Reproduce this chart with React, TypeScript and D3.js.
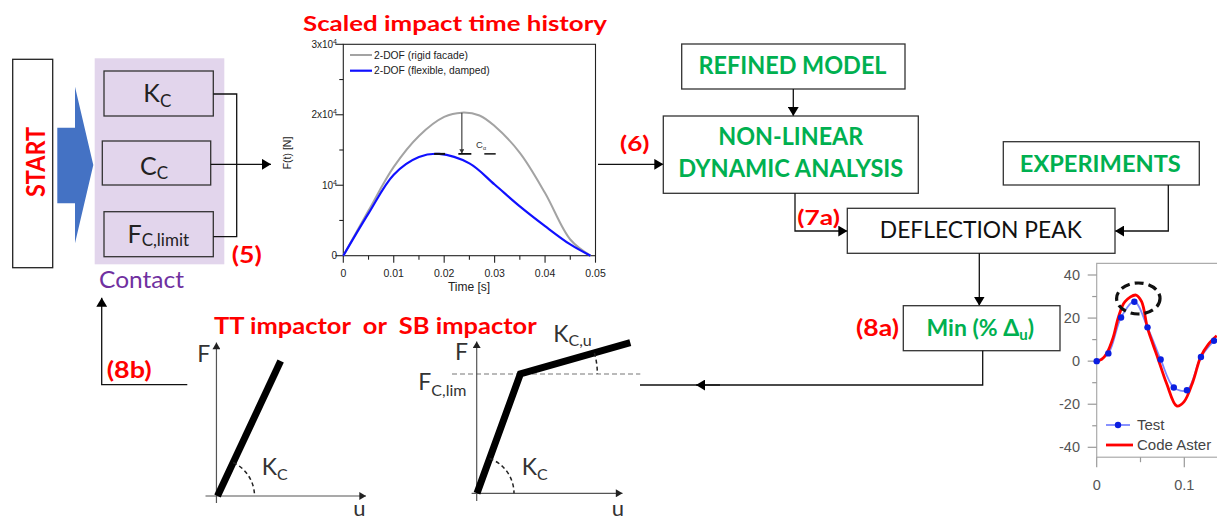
import React from 'react';
import * as d3 from 'd3';

// ---- Scaled impact time history (2-DOF) ----
const impactTickValuesX = [0, 0.01, 0.02, 0.03, 0.04, 0.05];
const impactTickLabelsX = ['0', '0.01', '0.02', '0.03', '0.04', '0.05'];
const impactMinorX = [0.005, 0.015, 0.025, 0.035, 0.045];
const impactTickValuesY = [0, 10000, 20000, 30000];
const impactTickSupY = ['', '4', '4', '4'];
const impactTickMainY = ['0', '10', '2x10', '3x10'];
const impactMinorY = [5000, 15000, 25000];
const rigidTime = [0, 0.005, 0.01, 0.015, 0.02, 0.0235, 0.027, 0.03, 0.035, 0.04, 0.045, 0.049];
const rigidForce = [0, 6400, 12600, 17000, 19700, 20300, 19900, 18400, 14600, 8900, 2300, 0];
const flexTime = [0, 0.005, 0.01, 0.015, 0.019, 0.025, 0.03, 0.035, 0.04, 0.045, 0.049];
const flexForce = [0, 6000, 11500, 14000, 14450, 13100, 10100, 7000, 4200, 1600, 0];
const impactLegend = ['2-DOF (rigid facade)', '2-DOF (flexible, damped)'];

// ---- Deflection comparison ----
const deflTickValuesY = [-40, -20, 0, 20, 40];
const deflMinorY = [-30, -10, 10, 30];
const deflTickValuesX = [0, 0.1];
const deflTickLabelsX = ['0', '0.1'];
const deflMinorX = [0.05];
const testTime = [0, 0.0133, 0.0278, 0.043, 0.058, 0.073, 0.088, 0.103, 0.119, 0.134];
const testDefl = [0, 3.6, 20.3, 27.6, 15.7, 0.8, -12.2, -13.5, 1.9, 9.5];
const asterTime = [0, 0.0057, 0.0114, 0.019, 0.0247, 0.0323, 0.0449, 0.0513, 0.0578, 0.0639, 0.0703, 0.0798, 0.0913, 0.0996, 0.11, 0.1186, 0.1274, 0.137];
const asterDefl = [0, 0.8, 3.6, 11.3, 20.3, 27.6, 30.7, 27.6, 15.7, 8.2, 0.8, -10.4, -20.8, -18.9, -9.3, 1.9, 7.8, 11.8];
const deflLegend = ['Test', 'Code Aster'];

// ---- Contact laws (schematic) ----
const ttDisp = [0, 0.421];
const ttForce = [0, 0.871];
const sbDisp = [0, 0.289, 1.022];
const sbForce = [0, 0.77, 0.972];

const FLOW = "Lato, 'Open Sans', sans-serif";
const CHART = "'Liberation Sans', Arial, sans-serif";
const RED = '#ff0000';
const GREEN = '#00b050';

export default function App() {
  // impact chart scales
  const ix = d3.scaleLinear().domain([0, 0.05]).range([343.3, 595.5]);
  const iy = d3.scaleLinear().domain([0, 30000]).range([255.7, 44.3]);
  const iLine = d3.line<[number, number]>().x(d => ix(d[0])).y(d => iy(d[1])).curve(d3.curveCatmullRom.alpha(0.5));
  const rigid = rigidTime.map((t, i) => [t, rigidForce[i]] as [number, number]);
  const flex = flexTime.map((t, i) => [t, flexForce[i]] as [number, number]);
  const rigidPeakIdx = d3.maxIndex(rigidForce);
  const flexPeakIdx = d3.maxIndex(flexForce);
  const ax = ix(rigidTime[rigidPeakIdx]);
  const ayTop = iy(rigidForce[rigidPeakIdx]);
  const ayBot = iy(flexForce[flexPeakIdx]);
  const fpx = ix(flexTime[flexPeakIdx]);

  // deflection chart scales
  const dx = d3.scaleLinear().domain([0, 0.1]).range([1096.7, 1184.3]);
  const dy = d3.scaleLinear().domain([-40, 40]).range([447.3, 275]);
  const dLine = d3.line<[number, number]>().x(d => dx(d[0])).y(d => dy(d[1])).curve(d3.curveCatmullRom.alpha(0.5));
  const test = testTime.map((t, i) => [t, testDefl[i]] as [number, number]);
  const aster = asterTime.map((t, i) => [t, asterDefl[i]] as [number, number]);
  const dTop = dy(45.4);
  const dBot = dy(-44.6);

  // contact law scales
  const tu = d3.scaleLinear().domain([0, 1]).range([217.5, 367.5]);
  const tf = d3.scaleLinear().domain([0, 1]).range([496, 341]);
  const su = d3.scaleLinear().domain([0, 1]).range([477, 627]);
  const sf = d3.scaleLinear().domain([0, 1]).range([493.3, 338.3]);
  const ttLine = d3.line<number>().x(d => tu(d)).y((d, i) => tf(ttForce[i]));
  const sbLine = d3.line<number>().x(d => su(d)).y((d, i) => sf(sbForce[i]));

  const arcPath = (cx: number, cy: number, r: number, a0: number, a1: number) => {
    const x0 = cx + r * Math.cos(a0), y0 = cy - r * Math.sin(a0);
    const x1 = cx + r * Math.cos(a1), y1 = cy - r * Math.sin(a1);
    return `M${x0},${y0} A${r},${r} 0 0 1 ${x1},${y1}`;
  };
  const ttAngle = Math.atan2(tf(0) - tf(ttForce[1]), tu(ttDisp[1]) - tu(0));
  const sbAngle1 = Math.atan2(sf(0) - sf(sbForce[1]), su(sbDisp[1]) - su(0));
  const sbAngle2 = Math.atan2(sf(sbForce[1]) - sf(sbForce[2]), su(sbDisp[2]) - su(sbDisp[1]));

  const box = { fill: 'none', stroke: '#333', strokeWidth: 1.3 } as const;
  const conn = { fill: 'none', stroke: '#111', strokeWidth: 1.3 } as const;

  return (
    <svg width={1217} height={520} style={{ position: 'absolute', left: 0, top: 0, background: '#fff' }}>
      <defs>
        <marker id="ah" viewBox="0 0 10 12" refX={10} refY={6} markerWidth={9} markerHeight={11} markerUnits="userSpaceOnUse" orient="auto">
          <path d="M0,0 L10,6 L0,12 z" fill="#000" />
        </marker>
        <marker id="ahs" viewBox="0 0 10 12" refX={10} refY={6} markerWidth={8} markerHeight={8} markerUnits="userSpaceOnUse" orient="auto">
          <path d="M0,0 L10,6 L0,12 z" fill="#222" />
        </marker>
        <marker id="aht" viewBox="0 0 10 12" refX={10} refY={6} markerWidth={5} markerHeight={5} markerUnits="userSpaceOnUse" orient="auto">
          <path d="M0,0 L10,6 L0,12 z" fill="#333" />
        </marker>
      </defs>

      {/* START */}
      <rect x={12.7} y={59.3} width={40} height={208.4} fill="#fff" stroke="#222" strokeWidth={1.3} />
      <text transform="translate(44.5,162) rotate(-90)" textAnchor="middle" fontFamily={FLOW} fontWeight={700} fontSize={27} fill={RED} textLength={70} lengthAdjust="spacingAndGlyphs">START</text>
      <polygon points="57.3,127.7 75,127.7 75,86.7 93.3,165 75,243.3 75,203.3 57.3,203.3" fill="#4472c4" />

      {/* Contact block */}
      <rect x={94.7} y={58.3} width={129.6} height={206} fill="#e2d5ec" />
      <rect x={104} y={71} width={109.3} height={45} {...box} />
      <rect x={102.3} y={141} width={108.4} height={44} {...box} />
      <rect x={104} y={211.7} width={109.3} height={45} {...box} />
      <text x={157.3} y={101.7} textAnchor="middle" fontFamily={FLOW} fontSize={25} fill="#222">K<tspan fontSize={17} dy={5}>C</tspan></text>
      <text x={154} y={175} textAnchor="middle" fontFamily={FLOW} fontSize={25} fill="#222">C<tspan fontSize={17} dy={4}>C</tspan></text>
      <text x={158.3} y={243.3} textAnchor="middle" fontFamily={FLOW} fontSize={25} fill="#222">F<tspan fontSize={17} dy={3}>C,limit</tspan></text>
      <path d="M213.3,94 H236.7 V236.7 H213.3" {...conn} />
      <path d="M210.7,164.3 H271" {...conn} markerEnd="url(#ah)" />
      <text x={231.7} y={263} fontFamily={FLOW} fontWeight={700} fontSize={22} fill={RED} textLength={30} lengthAdjust="spacingAndGlyphs">(5)</text>
      <text x={99} y={288} fontFamily={FLOW} fontSize={23} fill="#7030a0" textLength={85} lengthAdjust="spacingAndGlyphs">Contact</text>

      {/* Impact time history chart */}
      <text x={455} y={30.5} textAnchor="middle" fontFamily={FLOW} fontWeight={700} fontSize={21} fill={RED} textLength={304} lengthAdjust="spacingAndGlyphs">Scaled impact time history</text>
      <rect x={ix(0)} y={iy(30000)} width={ix(0.05) - ix(0)} height={iy(0) - iy(30000)} fill="none" stroke="#222" strokeWidth={1.1} />
      {impactTickValuesX.map((v, i) => (
        <g key={'ixt' + i}>
          <line x1={ix(v)} x2={ix(v)} y1={iy(0)} y2={iy(0) + 7} stroke="#222" strokeWidth={1.1} />
          <text x={ix(v)} y={iy(0) + 21} textAnchor="middle" fontFamily={CHART} fontSize={10.5} fill="#222">{impactTickLabelsX[i]}</text>
        </g>
      ))}
      {impactMinorX.map((v, i) => (
        <line key={'ixm' + i} x1={ix(v)} x2={ix(v)} y1={iy(0)} y2={iy(0) + 4} stroke="#222" strokeWidth={1.1} />
      ))}
      {impactTickValuesY.map((v, i) => (
        <g key={'iyt' + i}>
          <line x1={ix(0) - 8} x2={ix(0)} y1={iy(v)} y2={iy(v)} stroke="#222" strokeWidth={1.1} />
          <text x={337} y={iy(v) + 3.5} textAnchor="end" fontFamily={CHART} fontSize={10} fill="#222">
            {impactTickMainY[i]}
            {impactTickSupY[i] ? <tspan fontSize={7} dy={-4}>{impactTickSupY[i]}</tspan> : null}
          </text>
        </g>
      ))}
      {impactMinorY.map((v, i) => (
        <line key={'iym' + i} x1={ix(0) - 4} x2={ix(0)} y1={iy(v)} y2={iy(v)} stroke="#222" strokeWidth={1.1} />
      ))}
      <text transform="translate(290.5,153) rotate(-90)" textAnchor="middle" fontFamily={CHART} fontSize={10.5} fill="#222">F(t)  [N]</text>
      <text x={469} y={291} textAnchor="middle" fontFamily={CHART} fontSize={12} fill="#222">Time [s]</text>
      <path d={iLine(rigid) || ''} fill="none" stroke="#a3a3a3" strokeWidth={2} />
      <path d={iLine(flex) || ''} fill="none" stroke="#1010ff" strokeWidth={2.2} />
      <line x1={350} x2={372} y1={55} y2={55} stroke="#a3a3a3" strokeWidth={2} />
      <line x1={350} x2={372} y1={70.7} y2={70.7} stroke="#1010ff" strokeWidth={2.2} />
      <text x={374} y={58.7} fontFamily={CHART} fontSize={10.3} fill="#222">{impactLegend[0]}</text>
      <text x={374} y={74.4} fontFamily={CHART} fontSize={10.3} fill="#222">{impactLegend[1]}</text>
      {/* C annotation */}
      <line x1={ax} x2={ax} y1={ayTop} y2={ayBot - 0.5} stroke="#444" strokeWidth={1.2} markerEnd="url(#aht)" />
      <line x1={ax - 3.5} x2={ax + 9.5} y1={ayBot} y2={ayBot} stroke="#111" strokeWidth={1.8} />
      <line x1={fpx - 5} x2={fpx + 6} y1={ayBot} y2={ayBot} stroke="#111" strokeWidth={2} />
      <text x={476} y={148} fontFamily={CHART} fontSize={9.5} fill="#333">C<tspan fontSize={5.5} dy={2}>α</tspan></text>
      <line x1={484.3} x2={495.7} y1={ayBot} y2={ayBot} stroke="#111" strokeWidth={1.5} />

      {/* Flow: (6) */}
      <path d="M598,164.3 H663.3" {...conn} markerEnd="url(#ah)" />
      <text x={620} y={151} fontFamily={FLOW} fontWeight={700} fontSize={21} fill={RED} textLength={29.5} lengthAdjust="spacingAndGlyphs">(6)</text>

      <rect x={681.7} y={44} width={223.3} height={45} {...box} />
      <text x={792.5} y={74} textAnchor="middle" fontFamily={FLOW} fontWeight={700} fontSize={24} fill={GREEN} textLength={188} lengthAdjust="spacingAndGlyphs">REFINED MODEL</text>
      <path d="M793.3,89 V116" {...conn} markerEnd="url(#ah)" />

      <rect x={663.3} y={116} width={255} height={77.3} {...box} />
      <text x={790.8} y={145} textAnchor="middle" fontFamily={FLOW} fontWeight={700} fontSize={24} fill={GREEN} textLength={145} lengthAdjust="spacingAndGlyphs">NON-LINEAR</text>
      <text x={790.8} y={177.3} textAnchor="middle" fontFamily={FLOW} fontWeight={700} fontSize={24} fill={GREEN} textLength={225} lengthAdjust="spacingAndGlyphs">DYNAMIC ANALYSIS</text>

      <path d="M795,193.3 V231 H847.3" {...conn} markerEnd="url(#ah)" />
      <text x={797.3} y={225} fontFamily={FLOW} fontWeight={700} fontSize={21} fill={RED} textLength={42.7} lengthAdjust="spacingAndGlyphs">(7a)</text>

      <rect x={1003.3} y={141.7} width={196} height={43.3} {...box} />
      <text x={1100.3} y={171.7} textAnchor="middle" fontFamily={FLOW} fontWeight={700} fontSize={23} fill={GREEN} textLength={161} lengthAdjust="spacingAndGlyphs">EXPERIMENTS</text>
      <path d="M1168.3,185 V231 H1115" {...conn} markerEnd="url(#ah)" />

      <rect x={847.3} y={208.3} width={267.7} height={45} {...box} />
      <text x={980.8} y={238.3} textAnchor="middle" fontFamily={FLOW} fontSize={23} fill="#111" textLength={202} lengthAdjust="spacingAndGlyphs">DEFLECTION PEAK</text>
      <path d="M979.3,253.3 V305.7" {...conn} markerEnd="url(#ah)" />

      <rect x={903.3} y={305.7} width={156.7} height={45} {...box} />
      <text x={980.3} y={336} textAnchor="middle" fontFamily={FLOW} fontWeight={700} fontSize={23} fill={GREEN}>Min (% Δ<tspan fontSize={15} dy={4}>u</tspan><tspan dy={-4}>)</tspan></text>
      <text x={856} y={336} fontFamily={FLOW} fontWeight={700} fontSize={22} fill={RED} textLength={43} lengthAdjust="spacingAndGlyphs">(8a)</text>
      <path d="M982.7,350.7 V385 H640" {...conn} />
      <path d="M720,385 H696" {...conn} markerEnd="url(#ah)" />

      {/* (8b) feedback */}
      <path d="M187.3,384.7 H101.7 V297.7" {...conn} markerEnd="url(#ah)" />
      <text x={106.7} y={378.3} fontFamily={FLOW} fontWeight={700} fontSize={22} fill={RED} textLength={45} lengthAdjust="spacingAndGlyphs">(8b)</text>

      <text x={214} y={334.3} fontFamily={FLOW} fontWeight={700} fontSize={23} fill={RED} textLength={322.7} lengthAdjust="spacingAndGlyphs" style={{ whiteSpace: 'pre' }}>TT impactor  or  SB impactor</text>

      {/* TT contact law */}
      <line x1={tu(-0.08)} x2={tu(0.99)} y1={tf(0)} y2={tf(0)} stroke="#555" strokeWidth={1.2} markerEnd="url(#ahs)" />
      <line x1={tu(-0.007)} x2={tu(-0.007)} y1={tf(-0.045)} y2={tf(0.99)} stroke="#555" strokeWidth={1.2} markerEnd="url(#ahs)" />
      <path d={ttLine(ttDisp) || ''} fill="none" stroke="#000" strokeWidth={7} />
      <path d={arcPath(tu(0), tf(0), 37, ttAngle, 0)} fill="none" stroke="#222" strokeWidth={1.5} strokeDasharray="4 3" />
      <text x={197.3} y={361.7} fontFamily={FLOW} fontSize={23} fill="#333">F</text>
      <text x={261.7} y={475} fontFamily={FLOW} fontSize={23} fill="#333">K<tspan fontSize={16} dy={5}>C</tspan></text>
      <text x={353.3} y={516} fontFamily={FLOW} fontSize={22} fill="#333">u</text>

      {/* SB contact law */}
      <line x1={su(sbDisp[0]) - 25} x2={su(sbDisp[2]) + 10} y1={sf(sbForce[1])} y2={sf(sbForce[1])} stroke="#777" strokeWidth={1.1} strokeDasharray="5 3" />
      <line x1={su(-0.036)} x2={su(0.97)} y1={sf(0)} y2={sf(0)} stroke="#555" strokeWidth={1.2} markerEnd="url(#ahs)" />
      <line x1={su(-0.002)} x2={su(-0.002)} y1={sf(-0.05)} y2={sf(0.98)} stroke="#555" strokeWidth={1.2} markerEnd="url(#ahs)" />
      <path d={sbLine(sbDisp) || ''} fill="none" stroke="#000" strokeWidth={7} strokeLinejoin="miter" />
      <path d={arcPath(su(0), sf(0), 37, sbAngle1, 0)} fill="none" stroke="#222" strokeWidth={1.5} strokeDasharray="4 3" />
      <path d={arcPath(su(sbDisp[1]), sf(sbForce[1]), 77, sbAngle2, 0)} fill="none" stroke="#222" strokeWidth={1.5} strokeDasharray="4 3" />
      <text x={455} y={360} fontFamily={FLOW} fontSize={23} fill="#333">F</text>
      <text x={418.3} y={390} fontFamily={FLOW} fontSize={23} fill="#333">F<tspan fontSize={16} dy={6}>C,lim</tspan></text>
      <text x={553.3} y={341.7} fontFamily={FLOW} fontSize={23} fill="#333">K<tspan fontSize={16} dy={4}>C,u</tspan></text>
      <text x={521.7} y={475} fontFamily={FLOW} fontSize={23} fill="#333">K<tspan fontSize={16} dy={5}>C</tspan></text>
      <text x={611.7} y={516} fontFamily={FLOW} fontSize={22} fill="#333">u</text>

      {/* Deflection chart */}
      <rect x={dx(0)} y={dTop} width={200} height={dBot - dTop} fill="none" stroke="#aaa" strokeWidth={1.2} />
      {deflTickValuesY.map((v, i) => (
        <g key={'dyt' + i}>
          <line x1={dx(0) - 9} x2={dx(0)} y1={dy(v)} y2={dy(v)} stroke="#999" strokeWidth={1.2} />
          <text x={1080} y={dy(v) + 5} textAnchor="end" fontFamily={CHART} fontSize={14.5} fill="#555">{v}</text>
        </g>
      ))}
      {deflMinorY.map((v, i) => (
        <line key={'dym' + i} x1={dx(0) - 4.5} x2={dx(0)} y1={dy(v)} y2={dy(v)} stroke="#999" strokeWidth={1.2} />
      ))}
      {deflTickValuesX.map((v, i) => (
        <g key={'dxt' + i}>
          <line x1={dx(v)} x2={dx(v)} y1={dBot} y2={dBot + 10} stroke="#999" strokeWidth={1.2} />
          <text x={dx(v)} y={489.5} textAnchor="middle" fontFamily={CHART} fontSize={14.5} fill="#555">{deflTickLabelsX[i]}</text>
        </g>
      ))}
      {deflMinorX.map((v, i) => (
        <line key={'dxm' + i} x1={dx(v)} x2={dx(v)} y1={dBot} y2={dBot + 5} stroke="#999" strokeWidth={1.2} />
      ))}
      <path d={dLine(test) || ''} fill="none" stroke="#7b86ff" strokeWidth={1.8} />
      <path d={dLine(aster) || ''} fill="none" stroke="#ff0000" strokeWidth={2.8} />
      {test.map((d, i) => (
        <circle key={'tm' + i} cx={dx(d[0])} cy={dy(d[1])} r={3.2} fill="#0a1ee0" />
      ))}
      <ellipse cx={dx(0.0475)} cy={dy(29.1)} rx={21.7} ry={15.5} fill="none" stroke="#111" strokeWidth={3.2} strokeDasharray="9 5" />
      <line x1={1106} x2={1130} y1={425} y2={425} stroke="#7b86ff" strokeWidth={1.8} />
      <circle cx={1118} cy={425} r={3.2} fill="#0a1ee0" />
      <text x={1137} y={430} fontFamily={CHART} fontSize={15} fill="#444">{deflLegend[0]}</text>
      <line x1={1106} x2={1133} y1={445} y2={445} stroke="#ff0000" strokeWidth={2.8} />
      <text x={1137} y={450} fontFamily={CHART} fontSize={15} fill="#444">{deflLegend[1]}</text>
    </svg>
  );
}
